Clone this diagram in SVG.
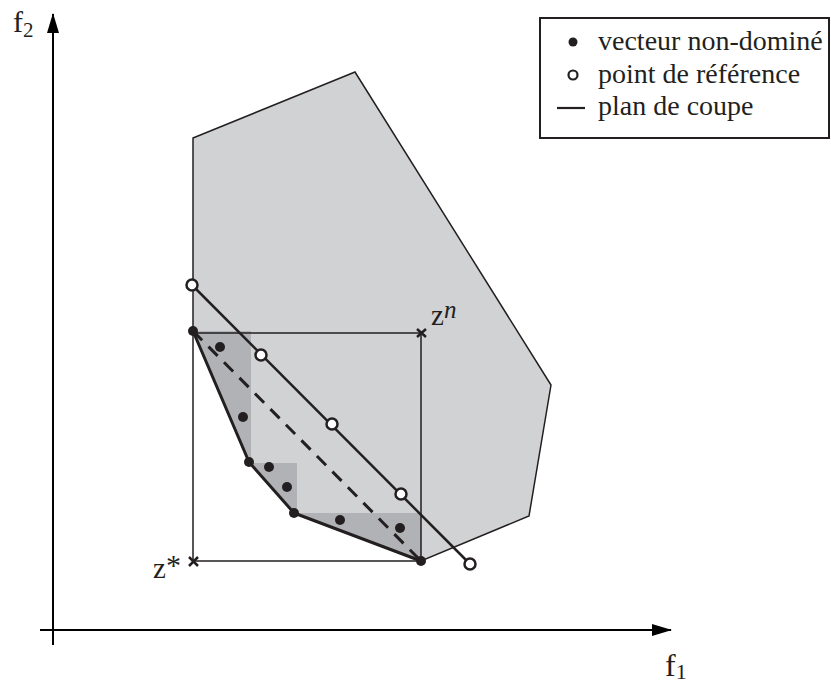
<svg xmlns="http://www.w3.org/2000/svg" width="831" height="684" viewBox="0 0 831 684">
<style>
text{font-family:"Liberation Serif","Times New Roman",serif;fill:#231f20}
.thin{fill:none;stroke:#231f20;stroke-width:1.5}
.hull{fill:none;stroke:#231f20;stroke-width:3;stroke-linejoin:round}
.cut{fill:none;stroke:#231f20;stroke-width:2.5}
.nd{fill:#231f20}
.ref{fill:#fff;stroke:#231f20;stroke-width:2.5}
.ax{stroke:#000;stroke-width:2;fill:none}
.xm{stroke:#231f20;stroke-width:2.5}
</style>
<defs>
<marker id="ah" viewBox="0 0 20 12" refX="19" refY="6" markerWidth="20" markerHeight="12" markerUnits="userSpaceOnUse" orient="auto">
<path d="M0,0 L20,6 L0,12 Z" fill="#000"/>
</marker>
</defs>
<g id="region">
<polygon points="193,138 355,72 551,385 529,516 421,561 294,513 249,462 193,331" fill="#d1d2d4" stroke="#231f20" stroke-width="1.5" stroke-linejoin="miter"/>
<polygon points="193,331 251,331 251,463 297,463 297,513 421,513 421,561 294,513 249,462" fill="#b1b2b5"/>
</g>
<g id="box">
<polyline class="thin" points="193,333 421,333 421,561 193,561 193,333"/>
<path class="xm" d="M417,329 L426,337 M426,329 L417,337"/>
<path class="xm" d="M189,557 L198,566 M198,557 L189,566"/>
</g>
<g id="axes">
<line class="ax" x1="53" y1="645" x2="53" y2="14" marker-end="url(#ah)"/>
<line class="ax" x1="40" y1="630" x2="671" y2="630" marker-end="url(#ah)"/>
</g>
<g id="connectors">
<polyline class="hull" points="193,331 249,462 294,513 421,561"/>
<line x1="193" y1="331" x2="421" y2="561" stroke="#231f20" stroke-width="3" stroke-dasharray="13 9"/>
<line class="cut" x1="192" y1="285" x2="470" y2="564"/>
</g>
<g id="nondominated">
<circle class="nd" cx="193" cy="331" r="5"/>
<circle class="nd" cx="220" cy="347" r="5"/>
<circle class="nd" cx="243" cy="417" r="5"/>
<circle class="nd" cx="249" cy="462" r="5"/>
<circle class="nd" cx="269" cy="467" r="5"/>
<circle class="nd" cx="287" cy="487" r="5"/>
<circle class="nd" cx="294" cy="513" r="5"/>
<circle class="nd" cx="340" cy="520" r="5"/>
<circle class="nd" cx="400" cy="528" r="5"/>
<circle class="nd" cx="421" cy="561" r="5"/>
</g>
<g id="reference">
<circle class="ref" cx="192" cy="285" r="5.5"/>
<circle class="ref" cx="261" cy="355" r="5.5"/>
<circle class="ref" cx="332" cy="424" r="5.5"/>
<circle class="ref" cx="401" cy="494" r="5.5"/>
<circle class="ref" cx="470" cy="564" r="5.5"/>
</g>
<g id="labels">
<text x="13" y="32" font-size="30">f<tspan font-size="21" dy="5">2</tspan></text>
<text x="665" y="676" font-size="32">f<tspan font-size="22" dy="3">1</tspan></text>
<text x="153" y="578" font-size="29">z<tspan font-size="30" dy="-3">*</tspan></text>
<text x="431" y="325" font-size="29">z<tspan font-size="25" font-style="italic" dy="-7">n</tspan></text>
</g>
<g id="legend">
<rect x="540" y="18" width="289" height="120" fill="#fff" stroke="#231f20" stroke-width="2"/>
<circle cx="573" cy="42" r="4.5" fill="#231f20"/>
<circle cx="573" cy="75" r="4.5" fill="#fff" stroke="#231f20" stroke-width="2.2"/>
<line x1="557" y1="108" x2="585" y2="108" stroke="#231f20" stroke-width="2.2"/>
<text x="598" y="50" font-size="28">vecteur non-dominé</text>
<text x="598" y="83" font-size="28">point de référence</text>
<text x="598" y="115" font-size="28">plan de coupe</text>
</g>
</svg>
